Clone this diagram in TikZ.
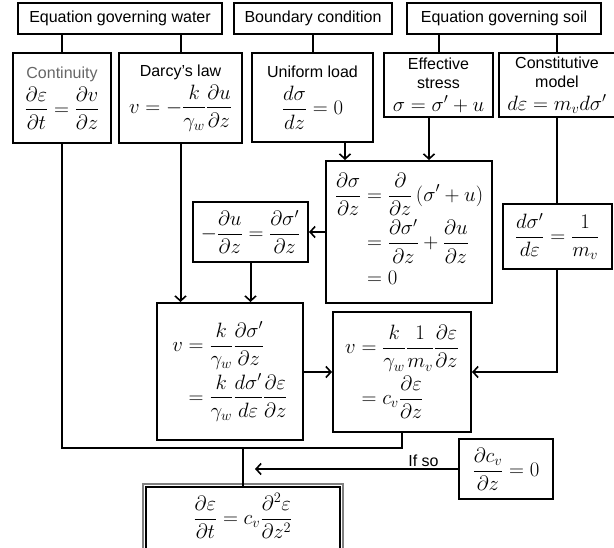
\documentclass[tikz,border=0pt]{standalone}
\usepackage{amsmath}
\usepackage{fontspec}
\setsansfont{Liberation Sans}
\usetikzlibrary{arrows.meta}
\newcommand{\rotulo}[1]{{\sffamily\fontsize{16}{18}\selectfont #1}}

\begin{document}
\begin{tikzpicture}[x=1pt,y=-1pt,
  line width=2pt,
  caja/.style={rectangle, draw, align=center, inner sep=2pt, font=\fontsize{22}{24}\selectfont},
  titulo/.style={rectangle, draw, inner sep=2pt, minimum height=31pt, font=\sffamily\fontsize{16}{18}\selectfont},
  flecha/.style={-{Straight Barb[length=5pt,width=11pt,line width=1.6pt]}}]
\clip (0,0) rectangle (614,548);
% encabezados
\node[titulo, minimum width=204pt] (agua) at (120,18.5) {Equation governing water};
\node[titulo, minimum width=158pt] (contorno) at (313,18.5) {Boundary condition};
\node[titulo, minimum width=194pt] (suelo) at (504,18.5) {Equation governing soil};
% ecuaciones de partida
\node[caja, minimum width=98pt, minimum height=90pt] (cont) at (62,98)
  {\rotulo{\color{black!60}Continuity}\\[4pt] $\displaystyle\frac{\partial\varepsilon}{\partial t}=\frac{\partial v}{\partial z}$};
\node[caja, minimum width=123pt, minimum height=90pt] (darcy) at (180.5,98)
  {\rotulo{Darcy's law}\\[4pt] $\displaystyle v=-\frac{k}{\gamma_w}\frac{\partial u}{\partial z}$};
\node[caja, minimum width=121pt, minimum height=89pt] (carga) at (312.5,97.5)
  {\rotulo{Uniform load}\\[8pt] $\displaystyle\frac{d\sigma}{dz}=0$};
\node[caja, minimum width=109pt, minimum height=64pt, font=\fontsize{20}{22}\selectfont] (efec) at (438.5,85)
  {\rotulo{Effective}\\[-3pt] \rotulo{stress}\\[1pt] $\sigma=\sigma'+u$};
\node[caja, minimum width=116pt, minimum height=64pt, font=\fontsize{20}{22}\selectfont] (const) at (557,85)
  {\rotulo{Constitutive}\\[-3pt] \rotulo{model}\\[1pt] $d\varepsilon=m_v d\sigma'$};
% pasos intermedios
\node[caja, minimum width=166pt, minimum height=142pt] (equil) at (409,232)
  {$\displaystyle\begin{aligned}\frac{\partial\sigma}{\partial z}&=\frac{\partial}{\partial z}\,(\sigma'+u)\\
    &=\frac{\partial\sigma'}{\partial z}+\frac{\partial u}{\partial z}\\ &=0\end{aligned}$};
\node[caja, minimum width=115pt, minimum height=60pt] (menosu) at (250.5,232)
  {$\displaystyle-\frac{\partial u}{\partial z}=\frac{\partial\sigma'}{\partial z}$};
\node[caja, minimum width=109pt, minimum height=65pt] (modulo) at (557,236.5)
  {$\displaystyle\frac{d\sigma'}{d\varepsilon}=\frac{1}{m_v}$};
\node[caja, minimum width=146pt, minimum height=137pt] (vel1) at (230,371.5)
  {$\displaystyle\begin{aligned}v&=\frac{k}{\gamma_w}\frac{\partial\sigma'}{\partial z}\\
    &=\frac{k}{\gamma_w}\frac{d\sigma'}{d\varepsilon}\frac{\partial\varepsilon}{\partial z}\end{aligned}$};
\node[caja, minimum width=138pt, minimum height=120pt] (vel2) at (402,372)
  {$\displaystyle\begin{aligned}v&=\frac{k}{\gamma_w}\frac{1}{m_v}\frac{\partial\varepsilon}{\partial z}\\
    &=c_v\frac{\partial\varepsilon}{\partial z}\end{aligned}$};
\node[caja, minimum width=94pt, minimum height=60pt] (cvcte) at (506,469)
  {$\displaystyle\frac{\partial c_v}{\partial z}=0$};
% resultado (su borde inferior queda fuera del recorte)
\node[caja, draw=none, minimum width=192pt, minimum height=56pt, anchor=north] (final) at (243,487)
  {$\displaystyle\frac{\partial\varepsilon}{\partial t}=c_v\frac{\partial^2\varepsilon}{\partial z^2}$};
\draw[line width=1.6pt] (final.north west) rectangle ([yshift=-20pt]final.south east);
\draw[gray, line width=1.6pt] ([shift={(-3pt,3pt)}]final.north west) rectangle ([shift={(3pt,-23pt)}]final.south east);
% conectores
\draw (agua.south -| cont.north) -- (cont.north);
\draw (agua.south -| darcy.north) -- (darcy.north);
\draw (contorno.south -| carga.north) -- (carga.north);
\draw (suelo.south -| efec.north) -- (efec.north);
\draw (suelo.south -| const.north) -- (const.north);
\draw (const.south -| modulo.north) -- (modulo.north);
\coordinate (e1) at ([xshift=-64pt]equil.north);
\coordinate (e2) at ([xshift=20pt]equil.north);
\draw[flecha] (e1 |- carga.south) -- (e1);
\draw[flecha] (e2 |- efec.south) -- (e2);
\draw[flecha] (equil.west) -- (menosu.east);
\draw[flecha] (menosu.south) -- (menosu.south |- vel1.north);
\draw[flecha] (darcy.south) -- (darcy.south |- vel1.north);
\draw[flecha] (vel1.east |- vel2.west) -- (vel2.west);
\draw[flecha] (modulo.south) |- (vel2.east);
\coordinate (junta) at (243,448);
\draw (cont.south) |- (junta -| vel2.south) -- (vel2.south);
\draw (junta) -- (final.north);
\coordinate (punta) at (255,469);
\draw[flecha] (cvcte.west) -- node[pos=0.17, above, inner sep=1pt] {\rotulo{If so}} (punta);
\end{tikzpicture}
\end{document}
